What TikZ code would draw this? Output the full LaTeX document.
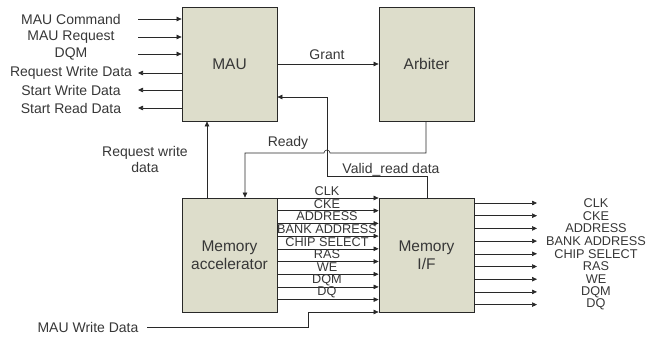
\documentclass[tikz,border=0pt]{standalone}
\usepackage{fontspec}
\setmainfont{Liberation Sans}
\usetikzlibrary{arrows.meta}
\definecolor{boxfill}{RGB}{221,221,203}
\definecolor{ln}{RGB}{40,40,40}
\definecolor{txt}{RGB}{55,55,55}
\begin{document}
\begin{tikzpicture}[x=1pt,y=-1pt,
  blk/.style={draw=ln, fill=boxfill, line width=0.8pt, minimum width=95pt, minimum height=114pt,
    inner sep=0pt, font=\fontsize{15.5}{18}\selectfont, align=center, text=txt},
  arr/.style={-{Triangle[length=5pt,width=4.5pt]}, draw=ln, line width=0.6pt},
  lbl/.style={font=\fontsize{14}{16}\selectfont, text=txt, inner sep=0pt, align=center},
  sig/.style={font=\fontsize{12.7}{13}\selectfont, text=txt, inner sep=0pt}]
\useasboundingbox (0,0) rectangle (662,340);

% blocks
\node[blk] (mau) at (229.5,64) {MAU};
\node[blk] (arb) at (426.5,64) {Arbiter};
\node[blk] (acc) at (229.5,255) {Memory\\accelerator};
\node[blk] (mif) at (426.5,255) {Memory\\I/F};

% left inputs of MAU
\foreach \t/\y [count=\i] in {MAU Command/19, MAU Request/37, DQM/54} {
  \node[lbl] (in\i) at (71,\y) {\t};
  \coordinate (ins\i) at (138,\y);
  \draw[arr] (ins\i) -- (ins\i -| mau.west);
}
% left outputs of MAU
\foreach \t/\y [count=\i] in {Request Write Data/73, Start Write Data/90, Start Read Data/108} {
  \node[lbl] (out\i) at (71,\y) {\t};
  \coordinate (outs\i) at (138,\y);
  \draw[arr] (outs\i -| mau.west) -- (outs\i);
}

% Grant
\draw[arr] (mau.east) -- (arb.west);
\node[lbl] (grant) at (327,55) {Grant};

% Valid_read data
\coordinate (v0) at (327,97);
\coordinate (v1) at (327,176);
\coordinate (v2) at (427,176);
\draw[arr] (v2 |- mif.north) -- (v2) -- (v1) -- (v0) -- (v0 -| mau.east);
\node[lbl] (valid) at (391,170) {Valid\_read data};

% Ready
\coordinate (r1) at (426,153);
\coordinate (hop) at (330,153);
\coordinate (r2) at (245,153);
\draw[arr] (r1 |- arb.south) -- (r1) -- (hop) arc[start angle=0, end angle=180, radius=3pt] -- (r2) -- (r2 |- acc.north);
\node[lbl] (ready) at (288,143) {Ready};

% Request write data
\coordinate (rw) at (207,198);
\draw[arr] (rw |- acc.north) -- (rw |- mau.south);
\node[lbl] (rwd) at (145,159) {Request write\\data};

% bus between accelerator and memory I/F
\foreach \t [count=\i from 0] in {CLK,CKE,ADDRESS,BANK ADDRESS,CHIP SELECT,RAS,WE,DQM,DQ} {
  \pgfmathsetmacro\yy{198+\i*12.7}
  \coordinate (b\i) at (277,\yy);
  \draw[arr] (b\i -| acc.east) -- (b\i -| mif.west);
  \node[sig] (bl\i) at (327,\yy-7) {\t};
}

% outputs of memory I/F
\foreach \t [count=\i from 0] in {CLK,CKE,ADDRESS,BANK ADDRESS,CHIP SELECT,RAS,WE,DQM,DQ} {
  \pgfmathsetmacro\yy{203+\i*12.7}
  \coordinate (o\i) at (537,\yy);
  \draw[arr] (o\i -| mif.east) -- (o\i);
  \node[sig] (ol\i) at (596,\yy) {\t};
}

% MAU Write Data
\node[lbl] (mwd) at (88,327) {MAU Write Data};
\coordinate (w1) at (147,327);
\coordinate (w2) at (308,327);
\coordinate (w3) at (308,312);
\draw[arr] (w1) -- (w2) -- (w3) -- (w3 -| mif.west);
\end{tikzpicture}
\end{document}
